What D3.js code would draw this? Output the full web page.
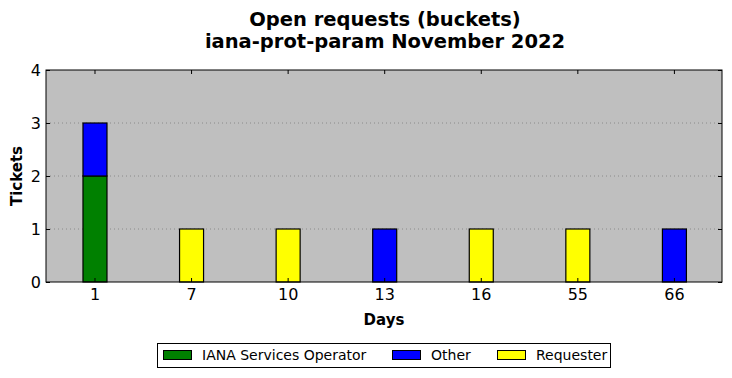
<!DOCTYPE html>
<html>
<head>
<meta charset="utf-8">
<script src="https://cdn.jsdelivr.net/npm/d3@7"></script>
<style>
  body { margin: 0; background: #fff; }
  svg text { font-family: "DejaVu Sans", sans-serif; }
</style>
</head>
<body>
<div id="chart"></div>
<script>
const width = 732;
const height = 378;
const margin = {top: 70, right: 10, bottom: 96, left: 46};

const days = ["1", "7", "10", "13", "16", "55", "66"];
const operator = [2, 0, 0, 0, 0, 0, 0];
const other = [1, 0, 0, 1, 0, 0, 1];
const requester = [0, 1, 1, 0, 1, 1, 0];
const yTicks = [0, 1, 2, 3, 4];

const seriesNames = ["IANA Services Operator", "Other", "Requester"];
const seriesColors = ["#008000", "#0000ff", "#ffff00"];

const rows = days.map((d, i) => ({
    day: d,
    "IANA Services Operator": operator[i],
    "Other": other[i],
    "Requester": requester[i]
}));
const stacked = d3.stack().keys(seriesNames)(rows);

const svg = d3.select("#chart").append("svg")
    .attr("width", width)
    .attr("height", height);

const x0 = margin.left, x1 = width - margin.right;
const y0 = height - margin.bottom, y1 = margin.top;

const x = d3.scaleBand().domain(days).range([x0 + 0.7, x1 + 0.7]);
const y = d3.scaleLinear().domain([0, 4]).range([y0, y1]);
const barW = 24;

// plot background
svg.append("rect")
    .attr("x", x0).attr("y", y1)
    .attr("width", x1 - x0).attr("height", y0 - y1)
    .attr("fill", "#bfbfbf");

// grid
svg.append("g").selectAll("line")
    .data(yTicks.slice(1, -1))
    .enter().append("line")
    .attr("x1", x0).attr("x2", x1)
    .attr("y1", d => y(d)).attr("y2", d => y(d))
    .attr("stroke", "#8a8a8a")
    .attr("stroke-width", 1)
    .attr("stroke-dasharray", "1,3");

// bars
svg.append("g").selectAll("g")
    .data(stacked)
    .enter().append("g")
    .attr("fill", (d, i) => seriesColors[i])
    .selectAll("rect")
    .data(d => d.filter(s => s[1] - s[0] > 0))
    .enter().append("rect")
    .attr("x", d => x(d.data.day) + x.bandwidth() / 2 - barW / 2)
    .attr("y", d => y(d[1]))
    .attr("width", barW)
    .attr("height", d => y(d[0]) - y(d[1]))
    .attr("stroke", "#000")
    .attr("stroke-width", 1.2);

// axes with inward ticks
const tickLen = 4;
const xAxis = svg.append("g").attr("transform", `translate(0,${y0})`)
    .call(d3.axisBottom(x).tickSizeInner(-tickLen).tickSizeOuter(0).tickPadding(7));
const xTop = svg.append("g").attr("transform", `translate(0,${y1})`)
    .call(d3.axisTop(x).tickSizeInner(-tickLen).tickSizeOuter(0).tickFormat(""));
const yAxis = svg.append("g").attr("transform", `translate(${x0},0)`)
    .call(d3.axisLeft(y).tickValues(yTicks).tickFormat(d3.format("d")).tickSizeInner(-tickLen).tickSizeOuter(0).tickPadding(5));
const yRight = svg.append("g").attr("transform", `translate(${x1},0)`)
    .call(d3.axisRight(y).tickValues(yTicks).tickSizeInner(-tickLen).tickSizeOuter(0).tickFormat(""));

[xAxis, xTop, yAxis, yRight].forEach(g => {
    g.select(".domain").remove();
    g.selectAll("line").attr("stroke", "#000");
    g.selectAll("text").attr("font-size", 16).attr("fill", "#000");
});
xAxis.selectAll("text").attr("dy", "0.71em");
yAxis.selectAll("text").attr("dy", "0.35em");

// frame
svg.append("rect")
    .attr("x", x0).attr("y", y1)
    .attr("width", x1 - x0).attr("height", y0 - y1)
    .attr("fill", "none")
    .attr("stroke", "#000")
    .attr("stroke-width", 1);

// titles
svg.append("text")
    .attr("x", (x0 + x1) / 2 + 1).attr("y", 26)
    .attr("text-anchor", "middle")
    .attr("font-size", 19.5).attr("font-weight", "bold")
    .text("Open requests (buckets)");
svg.append("text")
    .attr("x", (x0 + x1) / 2 + 1).attr("y", 48)
    .attr("text-anchor", "middle")
    .attr("font-size", 19.5).attr("font-weight", "bold")
    .text("iana-prot-param November 2022");

svg.append("text")
    .attr("x", (x0 + x1) / 2).attr("y", 325)
    .attr("text-anchor", "middle")
    .attr("font-size", 15).attr("font-weight", "bold")
    .text("Days");
svg.append("text")
    .attr("transform", `translate(22,${(y0 + y1) / 2}) rotate(-90)`)
    .attr("text-anchor", "middle")
    .attr("font-size", 15).attr("font-weight", "bold")
    .text("Tickets");

// legend
const legend = svg.append("g");
legend.append("rect")
    .attr("x", 157.5).attr("y", 343.5)
    .attr("width", 453).attr("height", 24)
    .attr("fill", "#fff").attr("stroke", "#000");
const legendX = [163, 392, 497];
seriesNames.forEach((name, i) => {
    legend.append("rect")
        .attr("x", legendX[i] + 0.5).attr("y", 350.5)
        .attr("width", 28).attr("height", 9)
        .attr("fill", seriesColors[i]).attr("stroke", "#000");
    legend.append("text")
        .attr("x", legendX[i] + 39).attr("y", 360)
        .attr("font-size", 14)
        .text(name);
});
</script>
</body>
</html>
